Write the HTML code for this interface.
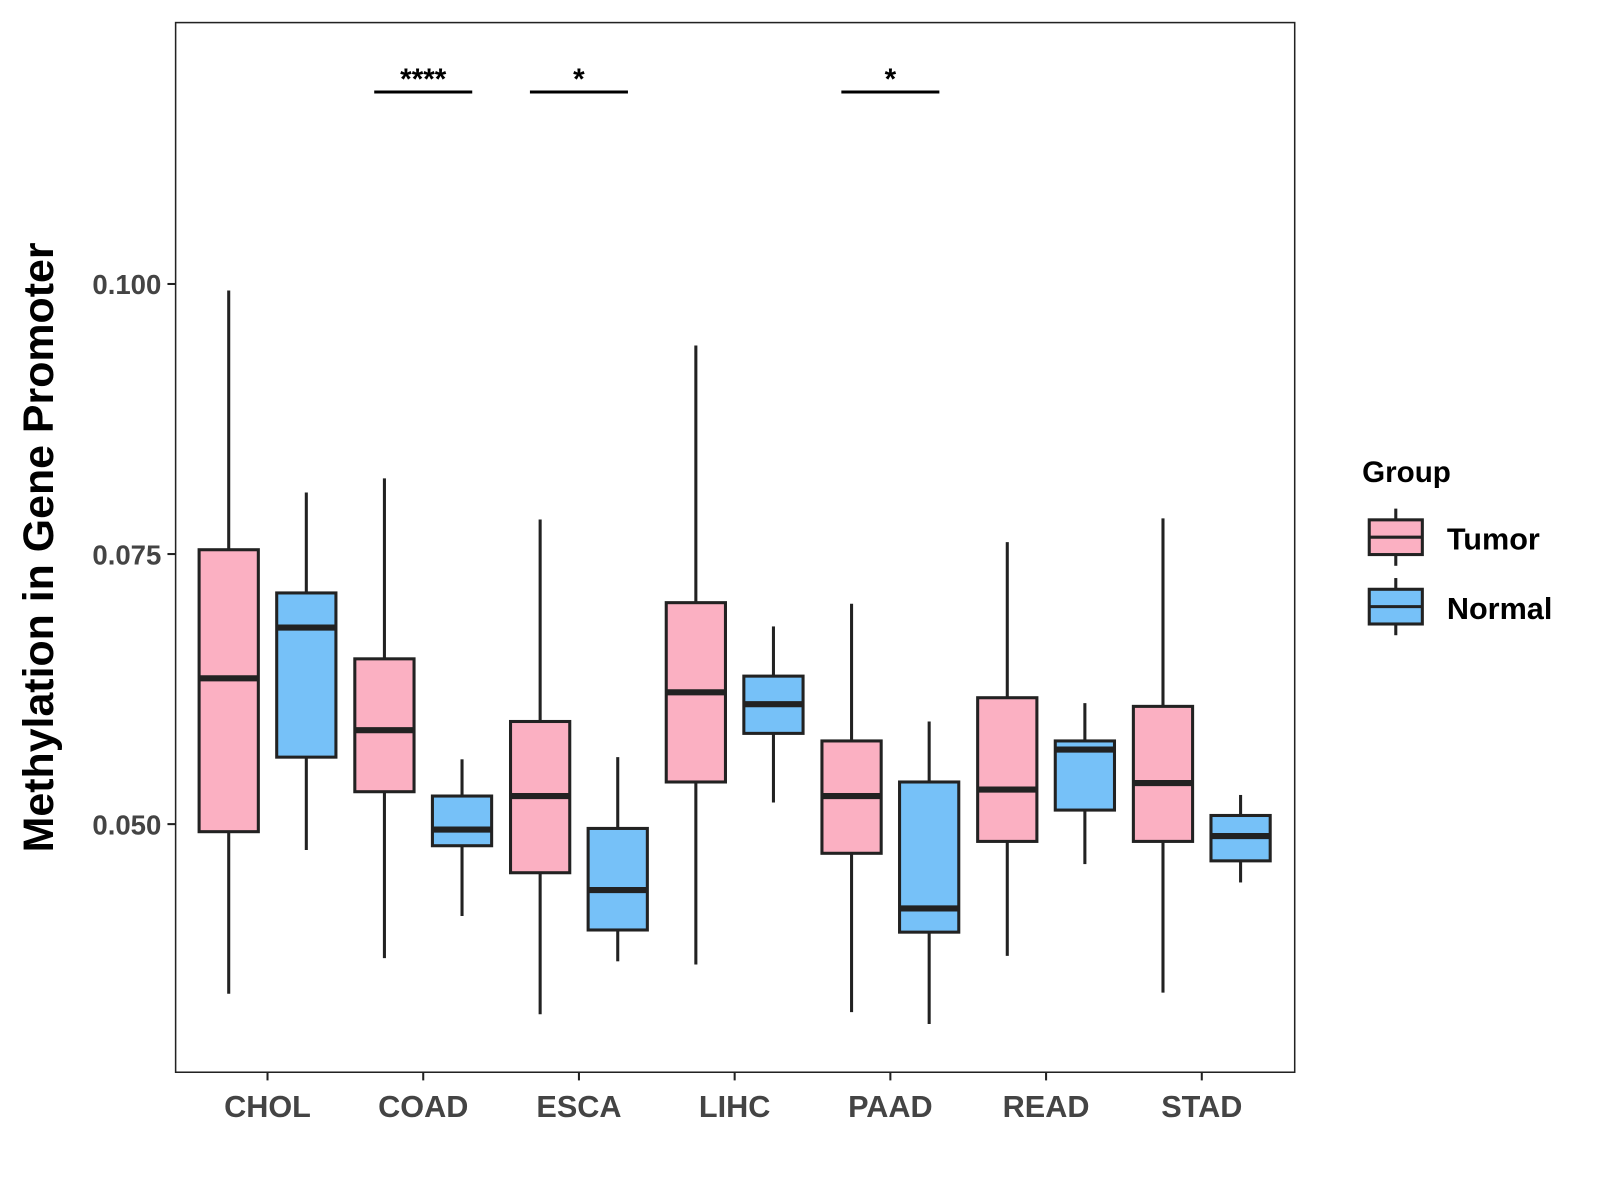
<!DOCTYPE html>
<html><head><meta charset="utf-8"><style>
body{margin:0;background:#fff}
svg{display:block}
svg text{font-family:"Liberation Sans",Arial,sans-serif;font-weight:bold}
</style></head><body>
<svg id="chart" width="1600" height="1200" viewBox="0 0 1567 1175">
<rect x="0" y="0" width="1567" height="1175" fill="#fff"/>
<rect x="172" y="22" width="1096" height="1028" fill="none" stroke="#222" stroke-width="1.5"/>
<g id="marks"></g>
<text x="0" y="0" transform="translate(52,536) rotate(-90)" text-anchor="middle" font-size="42" fill="#000">Methylation in Gene Promoter</text>
<g>
<text x="1334" y="472" font-size="29" fill="#000">Group</text>
<g>
<line x1="1367" y1="498" x2="1367" y2="554" stroke="#222" stroke-width="3"/>
<rect x="1341" y="509" width="52" height="34" fill="#fbb0c2" stroke="#222" stroke-width="3"/>
<line x1="1341" y1="526" x2="1393" y2="526" stroke="#222" stroke-width="3"/>
<text x="1417" y="538" font-size="30" fill="#000">Tumor</text></g>
<g>
<line x1="1367" y1="566" x2="1367" y2="622" stroke="#222" stroke-width="3"/>
<rect x="1341" y="577" width="52" height="34" fill="#76c1f8" stroke="#222" stroke-width="3"/>
<line x1="1341" y1="594" x2="1393" y2="594" stroke="#222" stroke-width="3"/>
<text x="1417" y="606" font-size="30" fill="#000">Normal</text></g>
</g>
</svg>
<script>
const categories=["CHOL","COAD","ESCA","LIHC","PAAD","READ","STAD"];
// [low, q1, median, q3, high]
const tumorStats=[[0.0343,0.0493,0.0635,0.0754,0.0994],[0.0376,0.0530,0.0587,0.0653,0.0820],[0.0324,0.0455,0.0526,0.0595,0.0782],[0.0370,0.0539,0.0622,0.0705,0.0943],[0.0326,0.0473,0.0526,0.0577,0.0704],[0.0378,0.0484,0.0532,0.0617,0.0761],[0.0344,0.0484,0.0538,0.0609,0.0783]];
const normalStats=[[0.0476,0.0562,0.0682,0.0714,0.0807],[0.0415,0.0480,0.0495,0.0526,0.0560],[0.0373,0.0402,0.0439,0.0496,0.0562],[0.0520,0.0584,0.0611,0.0637,0.0683],[0.0315,0.0400,0.0422,0.0539,0.0595],[0.0463,0.0513,0.0569,0.0577,0.0612],[0.0446,0.0466,0.0489,0.0508,0.0527]];
const yTicks=[0.050,0.075,0.100];
const yTickLabels=["0.050","0.075","0.100"];
const sigCategories=["COAD","ESCA","PAAD"];
const sigLabels=["****","*","*"];

const NS="http://www.w3.org/2000/svg";
const g=document.getElementById('marks');
function y(v){return 278+(0.100-v)*10580;}
function x(i){return 262+i*152.5;}
function mk(tag,attrs,parent){const e=document.createElementNS(NS,tag);for(const k in attrs)e.setAttribute(k,attrs[k]);(parent||g).appendChild(e);return e;}

yTicks.forEach((t,i)=>{
  const l=mk('line',{x1:164,x2:172,y1:y(t),y2:y(t),stroke:'#222','stroke-width':2});
  
  
  const tx=mk('text',{x:158,y:y(t)+10,'text-anchor':'end','font-size':27,fill:'#444'});
  tx.textContent=yTickLabels[i];
  
  
});
categories.forEach((c,i)=>{
  const l=mk('line',{x1:x(i),x2:x(i),y1:1050,y2:1058,stroke:'#222','stroke-width':2});
  
  
  const tx=mk('text',{x:x(i),y:1094,'text-anchor':'middle','font-size':30,fill:'#444'});
  tx.textContent=c;
  
  
});
function box(cx,s,fill,name){
  const gg=mk('g',{});
  
  
  const w=58;
  mk('line',{x1:cx,x2:cx,y1:y(s[4]),y2:y(s[3]),stroke:'#222','stroke-width':3},gg);
  mk('line',{x1:cx,x2:cx,y1:y(s[1]),y2:y(s[0]),stroke:'#222','stroke-width':3},gg);
  mk('rect',{x:cx-w/2,y:y(s[3]),width:w,height:y(s[1])-y(s[3]),fill:fill,stroke:'#222','stroke-width':3},gg);
  mk('line',{x1:cx-w/2,x2:cx+w/2,y1:y(s[2]),y2:y(s[2]),stroke:'#222','stroke-width':6},gg);
}
categories.forEach((c,i)=>{
  box(x(i)-38,tumorStats[i],'#fbb0c2','box-tumor-'+c.toLowerCase());
  box(x(i)+38,normalStats[i],'#76c1f8','box-normal-'+c.toLowerCase());
});
sigCategories.forEach((c,k)=>{
  const i=categories.indexOf(c);
  const l=mk('line',{x1:x(i)-48,x2:x(i)+48,y1:90,y2:90,stroke:'#000','stroke-width':3});
  
  
  const tx=mk('text',{x:x(i),y:87,'text-anchor':'middle','font-size':29,fill:'#000'});
  tx.textContent=sigLabels[k];
  
  
});
</script>
</body></html>
